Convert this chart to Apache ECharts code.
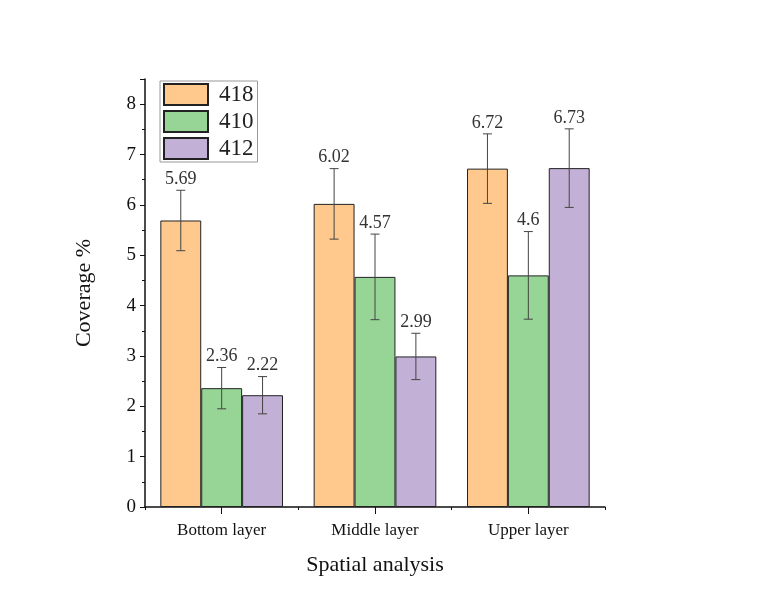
<!DOCTYPE html>
<html>
<head>
<meta charset="utf-8">
<script src="https://cdn.jsdelivr.net/npm/echarts@6/dist/echarts.min.js"></script>
<style>
  html, body { margin: 0; padding: 0; background: #fff; }
  #chart { width: 768px; height: 595px; }
</style>
</head>
<body>
<div id="chart"></div>
<script>
// data
const categories = ['Bottom layer', 'Middle layer', 'Upper layer'];
const seriesNames = ['418', '410', '412'];
const values418 = [5.69, 6.02, 6.72];
const values410 = [2.36, 4.57, 4.6];
const values412 = [2.22, 2.99, 6.73];
const errors418 = [0.60, 0.70, 0.69];
const errors410 = [0.41, 0.85, 0.87];
const errors412 = [0.37, 0.46, 0.78];
const yTicks = [0, 1, 2, 3, 4, 5, 6, 7, 8];

const colors = ['#FFC88C', '#96D596', '#C2B0D6'];
const allValues = [values418, values410, values412];
const allErrors = [errors418, errors410, errors412];
const font = '"Liberation Serif", "Times New Roman", serif';

const chart = echarts.init(document.getElementById('chart'));

// error bars + value labels, drawn on top of each bar
function errorSeries(k) {
  const data = categories.map((c, i) => [i, allValues[k][i] - allErrors[k][i], allValues[k][i] + allErrors[k][i], allValues[k][i]]);
  return {
    type: 'custom',
    name: seriesNames[k] + '_err',
    z: 5,
    data: data,
    renderItem: (params, api) => {
      const band = api.size([1, 0])[0];
      const barW = band * 0.8 / 3;
      const offset = (k - 1) * barW;
      const lo = api.coord([api.value(0), api.value(1)]);
      const hi = api.coord([api.value(0), api.value(2)]);
      const x = lo[0] + offset;
      const cap = 4.5;
      const style = { stroke: '#444', lineWidth: 1 };
      return {
        type: 'group',
        children: [
          { type: 'line', shape: { x1: x, y1: hi[1], x2: x, y2: lo[1] }, style },
          { type: 'line', shape: { x1: x - cap, y1: hi[1], x2: x + cap, y2: hi[1] }, style },
          { type: 'line', shape: { x1: x - cap, y1: lo[1], x2: x + cap, y2: lo[1] }, style },
          {
            type: 'text',
            style: {
              text: String(api.value(3)),
              x: x, y: hi[1] - 2,
              align: 'center', verticalAlign: 'bottom',
              fill: '#333', font: '18px ' + font
            }
          }
        ]
      };
    }
  };
}

const option = {
  backgroundColor: '#fff',
  animation: false,
  textStyle: { fontFamily: font },
  grid: { left: 145, right: 163, top: 79, bottom: 88 },
  legend: {
    data: seriesNames.map(n => ({ name: n, icon: 'rect' })),
    orient: 'vertical',
    left: 160,
    top: 81,
    itemWidth: 44,
    itemHeight: 21,
    itemGap: 4,
    padding: [2, 4, 2, 3],
    borderColor: '#999',
    borderWidth: 1,
    textStyle: { fontFamily: font, fontSize: 23, color: '#222', padding: [0, 0, 0, 6] }
  },
  xAxis: [
    {
      type: 'category',
      data: categories,
      name: 'Spatial analysis',
      nameLocation: 'middle',
      nameGap: 47,
      nameTextStyle: { fontFamily: font, fontSize: 22, color: '#111' },
      axisLine: { lineStyle: { color: '#111', width: 1.5 } },
      axisTick: { show: true, length: 3, lineStyle: { color: '#111' } },
      axisLabel: { fontFamily: font, fontSize: 17, color: '#111', margin: 15, interval: 0 }
    },
    {
      type: 'category',
      data: categories,
      position: 'bottom',
      axisLine: { show: false },
      axisTick: { show: true, alignWithLabel: true, length: 7, lineStyle: { color: '#111' } },
      axisLabel: { show: false }
    }
  ],
  yAxis: {
    type: 'value',
    min: 0,
    max: 8.5,
    interval: 1,
    name: 'Coverage %',
    nameLocation: 'middle',
    nameGap: 50,
    nameTextStyle: { fontFamily: font, fontSize: 22, color: '#111' },
    axisLine: { show: true, lineStyle: { color: '#111', width: 1.5 } },
    axisTick: { show: true, length: 5, lineStyle: { color: '#111' } },
    minorTick: { show: true, splitNumber: 2, length: 3, lineStyle: { color: '#111' } },
    splitLine: { show: false },
    axisLabel: {
      fontFamily: font, fontSize: 19, color: '#111', margin: 9,
      showMaxLabel: false,
      formatter: v => (yTicks.indexOf(v) >= 0 ? String(v) : '')
    }
  },
  series: [
    ...seriesNames.map((name, k) => ({
      type: 'bar',
      name: name,
      data: allValues[k],
      barGap: '0%',
      barCategoryGap: '20%',
      itemStyle: { color: colors[k], borderColor: '#222', borderWidth: 1 }
    })),
    errorSeries(0),
    errorSeries(1),
    errorSeries(2)
  ]
};

chart.setOption(option);
</script>
</body>
</html>
